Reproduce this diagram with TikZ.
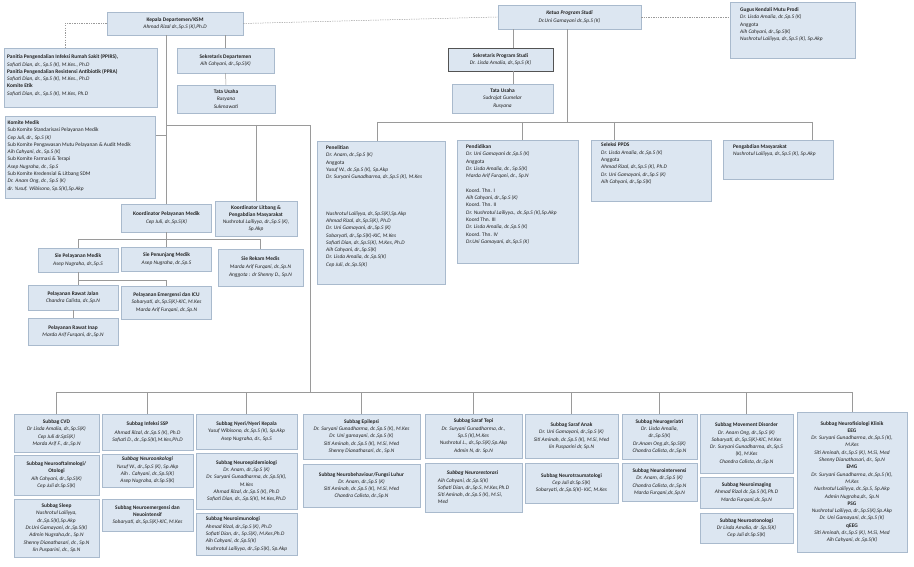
\documentclass[tikz,border=0pt]{standalone}
\usepackage{fontspec}
\setmainfont{Carlito}
\usepackage{tikz}
\usetikzlibrary{positioning, shadows}
\definecolor{isibiru}{HTML}{DCE6F1}
\definecolor{tepibiru}{HTML}{A9BACD}
\definecolor{abu}{HTML}{9A9A9A}
\definecolor{tinta}{HTML}{222222}

\tikzset{
  kotak/.style={draw=tepibiru, fill=isibiru, line width=0.5pt, inner sep=1pt, align=center,
    text=tinta, font=\fontsize{5.4}{7.3}\selectfont,
    drop shadow={shadow xshift=0.8pt, shadow yshift=-0.8pt, opacity=0.25}},
  tulisan/.style={inner sep=0pt, align=left, anchor=north west, text=tinta,
    font=\fontsize{5.4}{7.3}\selectfont},
  hubung/.style={draw=abu, line width=0.5pt},
  putus/.style={hubung, dash pattern=on 1.3pt off 1.1pt},
}

\begin{document}
\begin{tikzpicture}[x=1pt, y=-1pt]
  \useasboundingbox (0,0) rectangle (914,567);
  \fill[white] (0,0) rectangle (914,567);

  % pimpinan departemen dan prodi
  \node[kotak, minimum width=136pt, minimum height=23pt] (kepala) at (175,23.5) {\textbf{Kepala Departemen/KSM}\\\textit{Ahmad Rizal dr.,Sp.S (K),Ph.D}};
  \node[kotak, minimum width=97pt, minimum height=25pt] (sekdep) at (225.5,60.5) {\textbf{Sekretaris Departemen}\\\textit{Aih Cahyani, dr.,Sp.S(K)}};
  \node[kotak, minimum width=98pt, minimum height=28pt] (tudep) at (226,99) {\textbf{Tata Usaha}\\\textit{Rusyana}\\\textit{Sukmawati}};
  \node[kotak, minimum width=143pt, minimum height=24pt] (ketua) at (569.5,17) {\textbf{\textit{Ketua Program Studi}}\\\textit{Dr.Uni Gamayani dr.,Sp.S (K)}};
  \node[kotak, draw=gray!65!black, line width=0.8pt, minimum width=105pt, minimum height=23pt] (sekprodi) at (500.5,59.5) {\textbf{Sekretaris Program Studi}\\\textit{Dr. Lisda Amalia, dr.,Sp.S (K)}};
  \node[kotak, minimum width=101pt, minimum height=29pt] (tuprodi) at (502.5,98.5) {\textbf{Tata Usaha}\\\textit{Sudrajat Gumelar}\\\textit{Rusyana}};

  % kotak dengan teks rata kiri
  \node[kotak, anchor=north west, minimum width=153pt, minimum height=59pt] (ppirs) at (4,48) {};
  \node[tulisan] (ppirs-isi) at ([xshift=3pt, yshift=-6.5pt]ppirs.north west) {\textbf{Panitia Pengendalian Infeksi Rumah Sakit (PPIRS),}\\\textit{Sofiati Dian, dr., Sp.S (K), M.Kes., Ph.D}\\\textbf{Panitia Pengendalian Resistensi Antibiotik (PPRA)}\\\textit{Sofiati Dian, dr., Sp.S (K), M.Kes., Ph.D}\\\textbf{Komite Etik}\\\textit{Sofiati Dian, dr., Sp.S (K), M.Kes, Ph.D}};
  \node[kotak, anchor=north west, minimum width=125pt, minimum height=56pt] (gugus) at (730,2) {};
  \node[tulisan] (gugus-isi) at ([xshift=10pt, yshift=-5.5pt]gugus.north west) {\textbf{Gugus Kendali Mutu Prodi}\\\textit{Dr. Lisda Amalia, dr.,Sp.S (K)}\\Anggota\\\textit{Aih Cahyani, dr.,Sp.S(K)}\\\textit{Nushrotul Lailiyya, dr.,Sp.S (K), Sp.Akp}};
  \node[kotak, anchor=north west, minimum width=150pt, minimum height=82pt] (komite) at (5,116) {};
  \node[tulisan] (komite-isi) at ([xshift=2.5pt, yshift=-4.5pt]komite.north west) {\textbf{Komite Medik}\\Sub Komite Standarisasi Pelayanan Medik\\\textit{Cep Juli, dr., Sp.S (K)}\\Sub Komite Pengawasan Mutu Pelayanan \& Audit Medik\\\textit{Aih Cahyani, dr., Sp.S (K)}\\Sub Komite Farmasi \& Terapi\\\textit{Asep Nugraha, dr., Sp.S}\\Sub Komite Kredensial \& Litbang SDM\\\textit{Dr. Anam Ong, dr., Sp.S (K)}\\\textit{dr. Yusuf. Wibisono, Sp.S(K),Sp.Akp}};
  \node[kotak, anchor=north west, minimum width=128pt, minimum height=143pt] (penelitian) at (317,141) {};
  \node[tulisan] (penelitian-isi) at ([xshift=9pt, yshift=-4.5pt]penelitian.north west) {\textbf{Penelitian}\\\textit{Dr. Anam, dr.,Sp.S (K)}\\Anggota\\\textit{Yusuf W., dr.,Sp.S (K), Sp.Akp}\\\textit{Dr. Suryani Gunadharma, dr.,Sp.S (K), M.Kes}\\[29.2pt]\textit{Nushrotul Lailiyya, dr.,Sp.S(K),Sp.Akp}\\\textit{Ahmad Rizal, dr.,Sp.S(K), Ph.D}\\\textit{Dr. Uni Gamayani, dr.,Sp.S (K)}\\\textit{Sobaryati, dr.,Sp.S(K)-KIC, M.Kes}\\\textit{Sofiati Dian, dr.,Sp.S(K), M.Kes, Ph.D}\\\textit{Aih Cahyani, dr.,Sp.S(K)}\\\textit{Dr. Lisda Amalia, dr.,Sp.S(K)}\\\textit{Cep Juli, dr.,Sp.S(K)}};
  \node[kotak, anchor=north west, minimum width=121pt, minimum height=123pt] (pendidikan) at (457,140) {};
  \node[tulisan] (pendidikan-isi) at ([xshift=9pt, yshift=-4.5pt]pendidikan.north west) {\textbf{Pendidikan}\\\textit{Dr. Uni Gamayani dr.,Sp.S (K)}\\Anggota\\\textit{Dr. Lisda Amalia, dr., Sp.S(K)}\\\textit{Marda Arif Furqani, dr., Sp.N}\\[7.3pt]Koord. Thn. I\\\textit{Aih Cahyani, dr.,Sp.S (K)}\\Koord. Thn. II\\\textit{Dr. Nushrotul Lailiyya., dr.,Sp.S (K),Sp.Akp}\\Koord Thn. III\\\textit{Dr. Lisda Amalia, dr.,Sp.S (K)}\\Koord. Thn. IV\\\textit{Dr.Uni Gamayani, dr.,Sp.S (K)}};
  \node[kotak, anchor=north west, minimum width=120pt, minimum height=61pt] (seleksi) at (591,140) {};
  \node[tulisan] (seleksi-isi) at ([xshift=10pt, yshift=-3pt]seleksi.north west) {\textbf{Seleksi PPDS}\\\textit{Dr. Lisda Amalia, dr.,Sp.S (K)}\\Anggota\\\textit{Ahmad Rizal, dr.,Sp.S (K), Ph.D}\\\textit{Dr. Uni Gamayani, dr.,Sp.S (K)}\\\textit{Aih Cahyani, dr.,Sp.S(K)}};
  \node[kotak, anchor=north west, minimum width=110pt, minimum height=39pt] (pengmas) at (723,140) {};
  \node[tulisan] (pengmas-isi) at ([xshift=10pt, yshift=-4.5pt]pengmas.north west) {\textbf{Pengabdian Masyarakat}\\\textit{Nushrotul Lailiyya, dr.,Sp.S (K), Sp.Akp}};

  % koordinator dan sie
  \node[kotak, minimum width=90pt, minimum height=28pt] (koorpel) at (166.5,218) {\textbf{Koordinator Pelayanan Medik}\\\textit{Cep Juli, dr.,Sp.S(K)}};
  \node[kotak, minimum width=82pt, minimum height=35pt] (koorlit) at (256,218.5) {\textbf{Koordinator Litbang \&}\\\textbf{Pengabdian Masyarakat}\\\textit{Nushrotul Lailiyya, dr.,Sp.S (K),}\\\textit{Sp.Akp}};
  \node[kotak, minimum width=80pt, minimum height=24pt] (siepel) at (78,260) {\textbf{Sie Pelayanan Medik}\\\textit{Asep Nugraha, dr.,Sp.S}};
  \node[kotak, minimum width=90pt, minimum height=24pt] (siepen) at (166.5,259) {\textbf{Sie Penunjang Medik}\\\textit{Asep Nugraha, dr.,Sp.S}};
  \node[kotak, minimum width=85pt, minimum height=37pt] (sierm) at (260.5,267.5) {\textbf{Sie Rekam Medis}\\\textit{Marda Arif Furqani, dr.,Sp.N}\\[1.5pt]\textit{Anggota : dr Shenny D., Sp.N}};
  \node[kotak, minimum width=90pt, minimum height=25pt] (rajal) at (73,297.5) {\textbf{Pelayanan Rawat Jalan}\\\textit{Chandra Calista, dr.,Sp.N}};
  \node[kotak, minimum width=90pt, minimum height=33pt] (emerg) at (166.5,302.5) {\textbf{Pelayanan Emergensi dan ICU}\\\textit{Sobaryati, dr.,Sp.S(K)-KIC, M.Kes}\\\textit{Marda Arif Furqani, dr.,Sp.N}};
  \node[kotak, minimum width=90pt, minimum height=27pt] (ranap) at (73,331.5) {\textbf{Pelayanan Rawat Inap}\\\textit{Marda Arif Furqani, dr.,Sp.N}};

  % subbag
  \node[kotak, minimum width=85pt, minimum height=38pt] (cvd) at (56.5,433) {\textbf{Subbag CVD}\\\textit{Dr Lisda Amalia, dr.,Sp.S(K)}\\\textit{Cep Juli dr.SpS(K)}\\\textit{Marda Arif F., dr.,Sp.N}};
  \node[kotak, minimum width=85pt, minimum height=40pt] (oto) at (56.5,475) {\textbf{Subbag Neurooftalmologi/}\\\textbf{Otologi}\\\textit{Aih Cahyani, dr.,Sp.S(K)}\\\textit{Cep Juli dr.Sp.S(K)}};
  \node[kotak, minimum width=85pt, minimum height=58pt] (sleep) at (56.5,528) {\textbf{Subbag Sleep}\\\textit{Nushrotul Lailiyya,}\\\textit{dr.,Sp.S(K),Sp.Akp}\\\textit{Dr.Uni Gamayani, dr.,Sp.S(K)}\\\textit{Admin Nugraha,dr., Sp.N}\\\textit{Shenny Dianathasari, dr., Sp.N}\\\textit{Iin Pusparini, dr., Sp.N}};
  \node[kotak, minimum width=91pt, minimum height=36pt] (infeksi) at (147.5,432) {\textbf{Subbag Infeksi SSP}\\[2pt]\textit{Ahmad Rizal, dr.,Sp.S (K), Ph.D}\\\textit{Sofiati D., dr.,Sp.S(K),M.Kes,Ph.D}};
  \node[kotak, minimum width=91pt, minimum height=33pt] (onko) at (147.5,470.5) {\textbf{\textit{Subbag Neuroonkologi}}\\\textit{Yusuf W., dr.,Sp.S (K), Sp.Akp}\\\textit{Aih . Cahyani, dr.,Sp.S(K)}\\\textit{Asep Nugraha, dr.Sp.S(K)}};
  \node[kotak, minimum width=91pt, minimum height=32pt] (emergensi) at (147.5,515) {\textbf{Subbag Neuroemergensi dan}\\\textbf{Neuointensif}\\\textit{Sobaryati, dr.,Sp.S(K)-KIC, M.Kes}};
  \node[kotak, minimum width=101pt, minimum height=35pt] (nyeri) at (246.5,431.5) {\textbf{Subbag Nyeri/Nyeri Kepala}\\\textit{Yusuf Wibisono, dr.,Sp.S (K), Sp.Akp}\\\textit{Asep Nugraha, dr., Sp.S}};
  \node[kotak, minimum width=101pt, minimum height=56pt] (epid) at (246.5,481) {\textbf{Subbag Neuroepidemiologi}\\\textit{Dr. Anam, dr.,Sp.S (K)}\\\textit{Dr. Suryani Gunadharma, dr.,Sp.S(K),}\\\textit{M.Kes}\\\textit{Ahmad Rizal, dr.,Sp.S (K), Ph.D}\\\textit{Sofiati Dian, dr.,.Sp.S(K), M.Kes,Ph.D}};
  \node[kotak, align=left, minimum width=101pt, minimum height=42pt] (imun) at (246.5,534) {\textbf{Subbag Neuroimunologi}\\\textit{Ahmad Rizal, dr.,Sp.S (K), Ph.D}\\\textit{Sofiati Dian, dr., Sp.S(K), M.Kes,Ph.D}\\\textit{Aih Cahyani, dr.,Sp.S(K)}\\\textit{Nushrotul Lailiyya, dr.,Sp.S(K), Sp.Akp}};
  \node[kotak, minimum width=117pt, minimum height=45pt] (epilepsi) at (361.5,436.5) {\textbf{Subbag Epilepsi}\\\textit{Dr. Suryani Gunadharma, dr.,Sp.S (K), M.Kes}\\\textit{Dr. Uni gamayani, dr.,Sp.S (K)}\\\textit{Siti Aminah, dr.,Sp.S (K), M.Si, Med}\\\textit{Shenny Dianathasari, dr., Sp.N}};
  \node[kotak, minimum width=117pt, minimum height=43pt] (behav) at (361.5,485.5) {\textbf{Subbag Neurobehaviour/Fungsi Luhur}\\\textit{Dr. Anam, dr.,Sp.S (K)}\\\textit{Siti Aminah, dr.,Sp.S (K), M.Si, Med}\\\textit{Chandra Calista, dr.,Sp.N}};
  \node[kotak, minimum width=97pt, minimum height=44pt] (tepi) at (473.5,436) {\textbf{Subbag Saraf Tepi}\\\textit{Dr. Suryani Gunadharma, dr.,}\\\textit{Sp.S (K),M.Kes}\\\textit{Nushrotul L., dr.,Sp.S(K),Sp.Akp}\\\textit{Admin N, dr. Sp.N}};
  \node[kotak, align=left, minimum width=97pt, minimum height=49pt] (restorasi) at (473.5,487.5) {\hspace*{9pt}\textbf{\textit{Subbag Neurorestorasi}}\\\textit{Aih Cahyani, dr.,Sp.S(K)}\\\textit{Sofiati Dian, dr.,Sp.S, M.Kes,Ph.D}\\\textit{Siti Aminah, dr.,Sp.S (K), M.Si,}\\\textit{Med}};
  \node[kotak, minimum width=93pt, minimum height=44pt] (anak) at (571.5,436) {\textbf{Subbag Saraf Anak}\\\textit{Dr. Uni Gamayani, dr.,Sp.S (K)}\\\textit{Siti Aminah, dr.,Sp.S (K), M.Si, Med}\\\textit{Iin Pusparini dr, Sp.N}};
  \node[kotak, minimum width=93pt, minimum height=40pt] (trauma) at (571.5,483) {\textbf{Subbag Neurotraumatologi}\\\textit{Cep Juli dr.Sp.S(K)}\\\textit{Sobaryati, dr.,Sp.S(K)- KIC, M.Kes}};
  \node[kotak, minimum width=75pt, minimum height=45pt] (geriatri) at (659.5,436.5) {\textbf{Subbag Neurogeriatri}\\\textit{Dr. Lisda Amalia,}\\\textit{dr.,Sp.S(K)}\\\textit{Dr.Anam Ong,dr.,Sp.S(K)}\\\textit{Chandra Calista, dr.,Sp.N}};
  \node[kotak, minimum width=75pt, minimum height=38pt] (interv) at (659.5,482) {\textbf{Subbag Neurointervensi}\\\textit{Dr. Anam, dr.,Sp.S (K)}\\\textit{Chandra Calista, dr.,Sp.N}\\\textit{Marda Furqani,dr.,Sp.N}};
  \node[kotak, minimum width=93pt, minimum height=59pt] (movement) at (746.5,443.5) {\textbf{Subbag Movement Disorder}\\\textit{Dr. Anam Ong, dr.,Sp.S (K)}\\\textit{Sobaryati, dr.,Sp.S(K)-KIC, M.Kes}\\\textit{Dr. Suryani Gunadharma, dr.,Sp.S}\\\textit{(K), M.Kes}\\\textit{Chandra Calista, dr.,Sp.N}};
  \node[kotak, minimum width=93pt, minimum height=31pt] (imaging) at (746.5,492.5) {\textbf{Subbag Neuroimaging}\\\textit{Ahmad Rizal dr.,Sp.S (K),Ph.D}\\\textit{Marda Furqani,dr.,Sp.N}};
  \node[kotak, minimum width=93pt, minimum height=30pt] (otonologi) at (746.5,528) {\textbf{Subbag Neurootonologi}\\\textit{Dr Lisda Amalia, dr .Sp.S(K)}\\\textit{Cep Juli dr.Sp.S(K)}};
  \node[kotak, minimum width=110pt, minimum height=140pt] (fisiologi) at (852,482) {\textbf{Subbag Neurofisiologi Klinik}\\\textbf{EEG}\\\textit{Dr. Suryani Gunadharma, dr.,Sp.S (K),}\\\textit{M.Kes}\\\textit{Siti Aminah, dr.,Sp.S (K), M.Si, Med}\\\textit{Shenny Dianathasari, dr., Sp.N}\\\textbf{EMG}\\\textit{Dr. Suryani Gunadharma, dr.,Sp.S (K),}\\\textit{M.Kes}\\\textit{Nushrotul Lailiyya, dr.,Sp.S, Sp.Akp}\\\textit{Admin Nugraha,dr., Sp.N}\\\textbf{PSG}\\\textit{Nushrotul Lailiyya, dr.,Sp.S(K),Sp.Akp}\\\textit{Dr. Uni Gamayani, dr.,Sp.S (K)}\\\textbf{qEEG}\\\textit{Siti Aminah, dr.,Sp.S (K), M.Si, Med}\\\textit{Aih Cahyani, dr.,Sp.S(K)}};

  % garis koordinasi
  \draw[putus] (kepala.west) -| ([xshift=-15.5pt]ppirs.north);
  \draw[putus] (kepala.east) -- (ketua.west);
  \draw[putus] (ketua.east) -- (gugus.west |- ketua.east);

  % garis komando departemen
  \coordinate (j1) at (166.5,125);
  \coordinate (j2) at (310,125);
  \coordinate (busL) at (56.5,392);
  \coordinate (busR) at (852,392);
  \draw[hubung] (sekdep.north |- kepala.south) -- (sekdep.north);
  \draw[hubung] (sekdep.south) -- (tudep.north);
  \draw[hubung] (kepala.south -| koorpel.north) -- (koorpel.north);
  \draw[hubung] ([yshift=22pt]komite.east) -- ([yshift=22pt]komite.east -| koorpel.north);
  \draw[hubung] (j1) -- (j2) -- (j2 |- busL);
  \draw[hubung] (koorlit.north |- j1) -- (koorlit.north);

  % sie
  \coordinate (sieL) at (78,239);
  \coordinate (sieR) at (260.5,239);
  \coordinate (sj) at (78,280);
  \draw[hubung] (koorpel.south) -- (koorpel.south |- sieL);
  \draw[hubung] (sieL) -- (sieR);
  \foreach \n in {siepel, siepen, sierm}
    \draw[hubung] (\n.north |- sieL) -- (\n.north);
  \draw[hubung] (siepel.south) -- (siepel.south |- rajal.north);
  \draw[hubung] (sj) -| (emerg.north);
  \draw[hubung] (rajal.south) -- (ranap.north);

  % prodi
  \coordinate (b0) at (567,122);
  \coordinate (b1) at (377,122);
  \coordinate (b2) at (522,122);
  \coordinate (b3) at (614,122);
  \coordinate (b4) at (812,122);
  \draw[hubung] ([xshift=13pt]sekprodi.north |- ketua.south) -- ([xshift=13pt]sekprodi.north);
  \draw[hubung] ([xshift=13pt]sekprodi.south) -- ([xshift=13pt]sekprodi.south |- tuprodi.north);
  \draw[hubung] (b0 |- ketua.south) -- (b0);
  \draw[hubung] (b1) -- (b4);
  \draw[hubung] (b1) -- (b1 |- penelitian.north);
  \draw[hubung] (b2) -- (b2 |- pendidikan.north);
  \draw[hubung] (b3) -- (b3 |- seleksi.north);
  \draw[hubung] (b4) -- (b4 |- pengmas.north);

  % subbag
  \draw[hubung] (busL) -- (busR);
  \foreach \n in {cvd, infeksi, nyeri, epilepsi, tepi, anak, geriatri, movement, fisiologi}
    \draw[hubung] (\n.north |- busL) -- (\n.north);
\end{tikzpicture}
\end{document}
